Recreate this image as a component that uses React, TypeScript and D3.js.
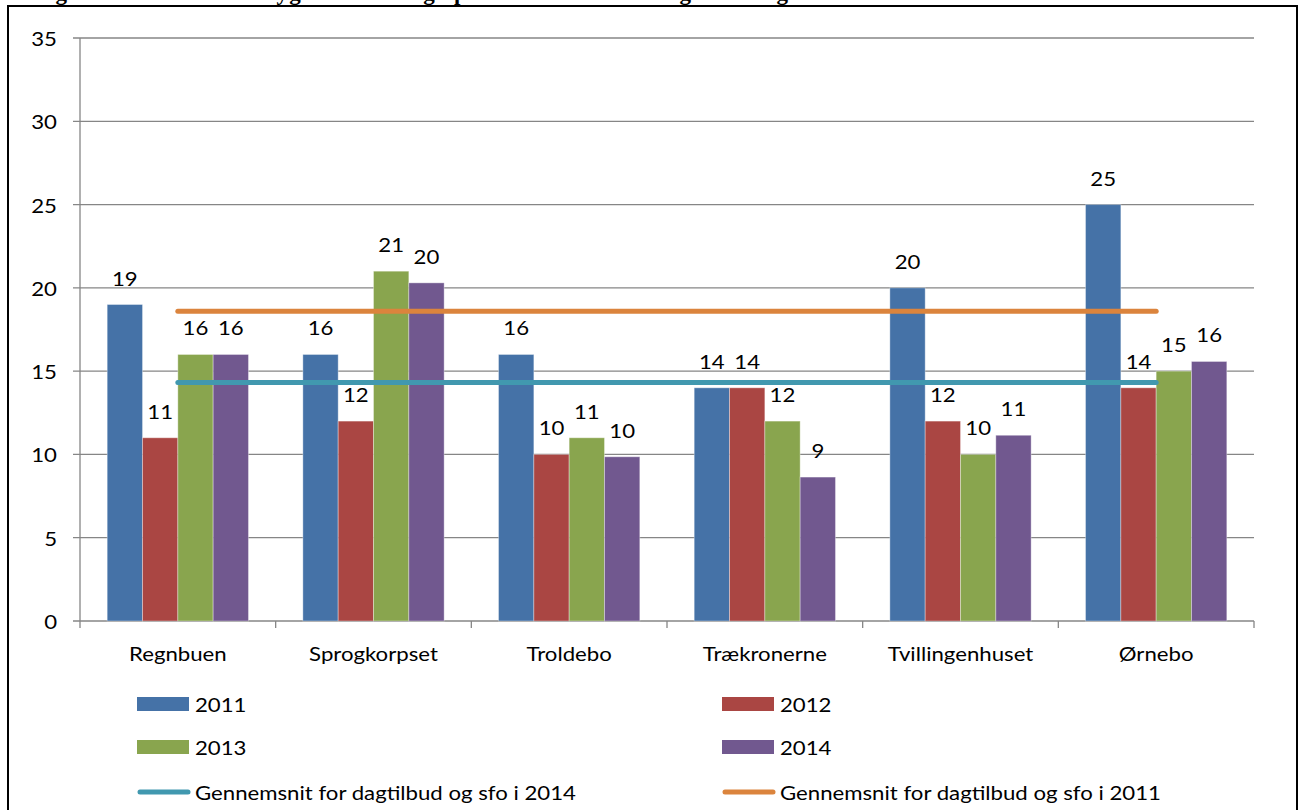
import React from "react";
import * as d3 from "d3";

const categories = ["Regnbuen", "Sprogkorpset", "Troldebo", "Trækronerne", "Tvillingenhuset", "Ørnebo"];
const years = ["2011", "2012", "2013", "2014"];
const values2011 = [19, 16, 16, 14, 20, 25];
const values2012 = [11, 12, 10, 14, 12, 14];
const values2013 = [16, 21, 11, 12, 10, 15];
const values2014 = [16, 20.3, 9.86, 8.64, 11.15, 15.58];
const labels2014 = ["16", "20", "10", "9", "11", "16"];
const avg2014 = 14.32;
const avg2011 = 18.6;
const yTicks = [0, 5, 10, 15, 20, 25, 30, 35];
const lineLabels = ["Gennemsnit for dagtilbud og sfo i 2014", "Gennemsnit for dagtilbud og sfo i 2011"];
const title = "Figur 11: Antal netto sygefraværsdage pr. fuldtidsansat i dagtilbud og sfo i 2011-2014";

const barColors = ["#4572A7", "#AA4643", "#89A54E", "#71588F"];
const lineColors = ["#4198AF", "#DB843D"];
const FONT = "Lato, 'Open Sans', sans-serif";
const SX = 1.11;

function T({ x, y, anchor = "start", baseline, children, fs = 20 }: any) {
  return (
    <text transform={`translate(${x},${y}) scale(${SX},1)`} textAnchor={anchor}
      dominantBaseline={baseline} fontSize={fs} fill="#000">{children}</text>
  );
}

export default function App() {
  const W = 1304, H = 810;
  const left = 80, right = 1254, top = 38, bottom = 621;
  const y = d3.scaleLinear().domain([0, 35]).range([bottom, top]);
  const x0 = d3.scaleBand<string>().domain(categories).range([left, right]).padding(0);
  const x1 = d3.scaleBand<string>().domain(years).range([0, x0.bandwidth()]).paddingInner(0).paddingOuter(0.77);
  const series = [values2011, values2012, values2013, values2014];
  const seriesLabels = [values2011.map(String), values2012.map(String), values2013.map(String), labels2014];
  const grid = "#868686";

  const firstC = x0(categories[0])! + x0.bandwidth() / 2;
  const lastC = x0(categories[categories.length - 1])! + x0.bandwidth() / 2;
  const line = d3.line<[number, number]>();

  const legendRows = [704, 747, 792];
  const legendCols = [137, 722];

  return (
    <svg width={W} height={H} style={{ position: "absolute", left: 0, top: 0, background: "#fff" }} fontFamily={FONT}>
      <rect x={0} y={0} width={W} height={H} fill="#fff" />
      <text x={33} y={0} fontFamily="'Liberation Serif', serif" fontWeight="bold" fontSize={23}
        textLength={922} lengthAdjust="spacing">{title}</text>
      <path d={`M8,${H + 5} V6 H1297 V${H + 5}`} fill="none" stroke="#000" strokeWidth={2} />

      {yTicks.map((t) => (
        <g key={t}>
          <line x1={73} x2={right} y1={y(t)} y2={y(t)} stroke={grid} strokeWidth={1.3} />
          <T x={57} y={y(t)} anchor="end" baseline="central">{t}</T>
        </g>
      ))}
      <line x1={left} x2={left} y1={top} y2={bottom} stroke={grid} strokeWidth={1.3} />
      {[...categories.map((c) => x0(c)!), right].map((xx, i) => (
        <line key={i} x1={xx} x2={xx} y1={bottom} y2={bottom + 7} stroke={grid} strokeWidth={1.3} />
      ))}

      {categories.map((c, ci) => (
        <g key={c}>
          {years.map((yr, si) => {
            const v = series[si][ci];
            const bx = x0(c)! + x1(yr)!;
            return (
              <rect key={yr} x={bx} y={y(v)} width={x1.bandwidth()} height={bottom - y(v)}
                fill={barColors[si]} stroke="#ffffff" strokeOpacity={0.35} strokeWidth={1} />
            );
          })}
          <T x={x0(c)! + x0.bandwidth() / 2} y={653} anchor="middle" baseline="central">{c}</T>
        </g>
      ))}

      <path d={line([[firstC, y(avg2014)], [lastC, y(avg2014)]])!} stroke={lineColors[0]} strokeWidth={5} strokeLinecap="round" fill="none" />
      <path d={line([[firstC, y(avg2011)], [lastC, y(avg2011)]])!} stroke={lineColors[1]} strokeWidth={5} strokeLinecap="round" fill="none" />

      {categories.map((c, ci) =>
        years.map((yr, si) => {
          const v = series[si][ci];
          const cx = x0(c)! + x1(yr)! + x1.bandwidth() / 2;
          return (
            <T key={c + yr} x={cx} y={y(v) - 19} anchor="middle">{seriesLabels[si][ci]}</T>
          );
        })
      )}

      {years.map((yr, i) => {
        const col = legendCols[i % 2];
        const row = legendRows[Math.floor(i / 2)];
        return (
          <g key={yr}>
            <rect x={col} y={row - 7} width={52} height={14} fill={barColors[i]} />
            <T x={col + 58} y={row} baseline="central">{yr}</T>
          </g>
        );
      })}
      {lineLabels.map((lab, i) => {
        const col = legendCols[i];
        const row = legendRows[2];
        return (
          <g key={lab}>
            <path d={line([[col + 3, row], [col + 51, row]])!} stroke={lineColors[i]} strokeWidth={5} strokeLinecap="round" />
            <T x={col + 58} y={row} baseline="central">{lab}</T>
          </g>
        );
      })}
    </svg>
  );
}
